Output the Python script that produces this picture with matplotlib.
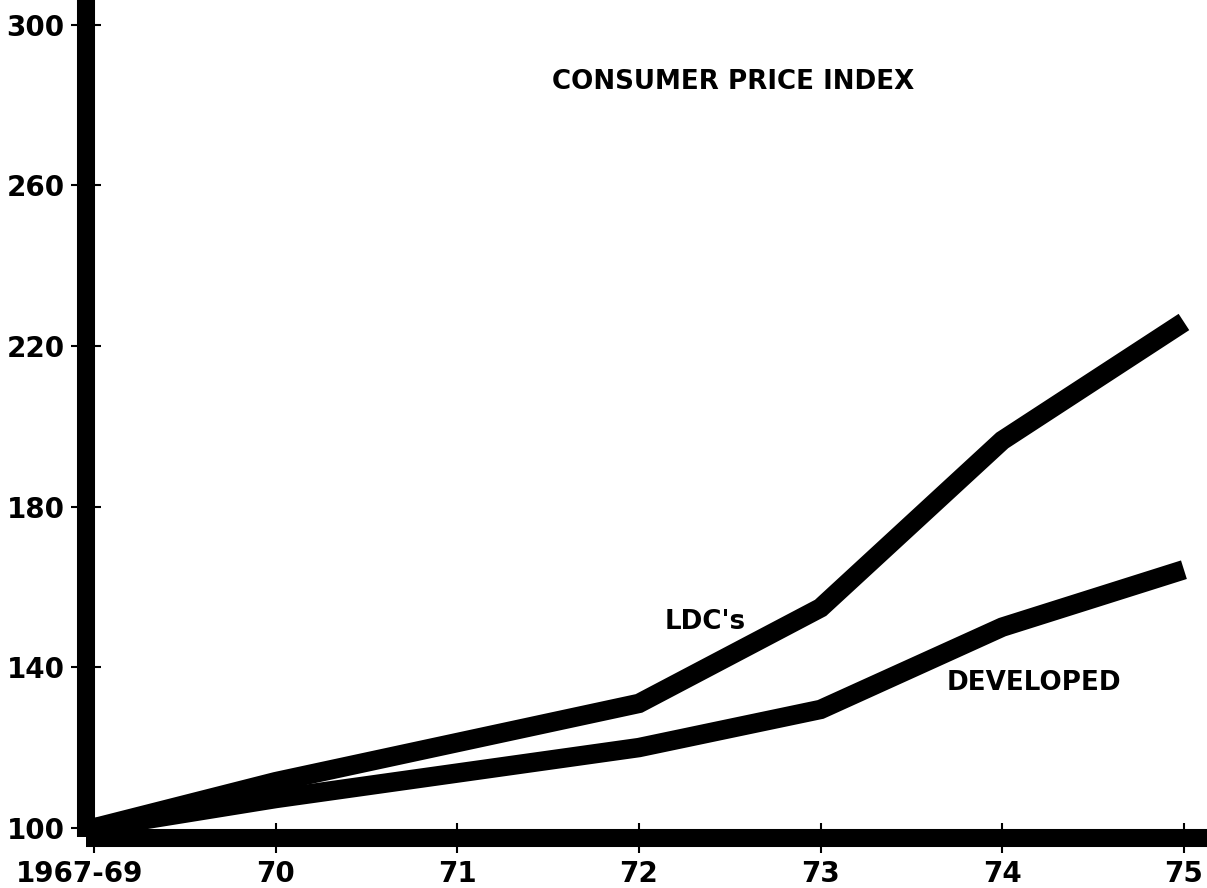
import matplotlib
matplotlib.use("Agg")
from matplotlib import pyplot as plt
import matplotlib.transforms as mtransforms

# DATA
years = ["1967-69", "70", "71", "72", "73", "74", "75"]
ldc_x = [0, 1, 3, 4, 5, 6]
ldc = [100, 111.5, 131, 154.8, 196.5, 226]
dev_x = [0, 1, 3, 4, 5, 6]
developed = [100, 107.3, 120, 129.5, 150, 164.3]
y_ticks = [100, 140, 180, 220, 260, 300]

# STYLING
W, H, DPI = 1207, 888, 100
LINE_W = 14
SPINE_W = 13
plt.rcParams["font.family"] = ["DejaVu Sans"]
plt.rcParams["font.weight"] = "bold"

fig = plt.figure(figsize=(W / DPI, H / DPI), dpi=DPI)
ax = fig.add_axes([86 / W, (H - 837.5) / H, (W - 86) / W, 837.5 / H])

ax.plot(ldc_x, ldc, color="black", lw=LINE_W, solid_capstyle="butt",
        solid_joinstyle="miter", zorder=3)
ax.plot(dev_x, developed, color="black", lw=LINE_W, solid_capstyle="butt",
        solid_joinstyle="miter", zorder=3)

ax.set_xlim(-0.044, 6.127)
ax.set_ylim(97.6, 306.2)

for side in ["top", "right"]:
    ax.spines[side].set_visible(False)
for side in ["left", "bottom"]:
    ax.spines[side].set_linewidth(SPINE_W)
    ax.spines[side].set_capstyle("butt")

ax.set_xticks(range(len(years)))
ax.set_xticklabels(years)
ax.set_yticks(y_ticks)
ax.set_yticklabels([str(v) for v in y_ticks])
ax.tick_params(axis="both", direction="inout", length=21, width=1.5,
               labelsize=20, color="black")
ax.tick_params(axis="x", pad=6)
ax.tick_params(axis="y", pad=5)

# first label sits a little left of its tick
first = ax.get_xticklabels()[0]
first.set_transform(first.get_transform() +
                    mtransforms.ScaledTranslation(-14 / DPI, 0, fig.dpi_scale_trans))

# annotations
ax.text(3.516, 285.8, "CONSUMER PRICE INDEX", ha="center", va="center",
        fontsize=18.8, fontweight="bold")
ax.text(3.363, 151.3, "LDC's", ha="center", va="center",
        fontsize=18.8, fontweight="bold")
ax.text(5.174, 136.1, "DEVELOPED", ha="center", va="center",
        fontsize=18.8, fontweight="bold")

fig.savefig("out.png", dpi=DPI)
